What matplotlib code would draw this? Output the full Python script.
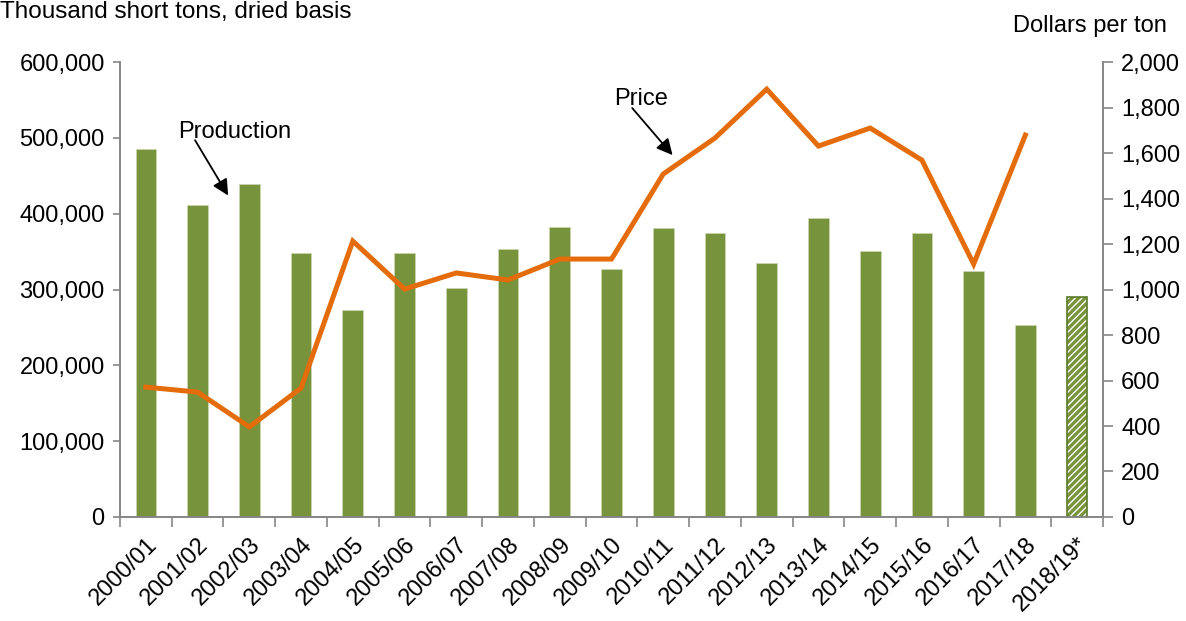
import matplotlib
matplotlib.use("Agg")
import matplotlib.pyplot as plt
from matplotlib.ticker import FuncFormatter
import numpy as np

plt.rcParams['font.family'] = ['Liberation Sans', 'DejaVu Sans']

# Data
years = ["2000/01", "2001/02", "2002/03", "2003/04", "2004/05", "2005/06",
         "2006/07", "2007/08", "2008/09", "2009/10", "2010/11", "2011/12",
         "2012/13", "2013/14", "2014/15", "2015/16", "2016/17", "2017/18",
         "2018/19*"]
production = [485000, 411000, 439000, 348000, 273000, 348000, 302000, 353000,
              382000, 327000, 381000, 374000, 335000, 394000, 351000, 374000,
              324000, 253000, 290000]
price = [571, 549, 396, 567, 1213, 1002, 1073, 1042, 1134, 1134, 1508, 1666,
         1881, 1631, 1710, 1569, 1112, 1679]

GREEN = "#77933C"
ORANGE = "#E46C0A"
GRAY = "#868686"

fig = plt.figure(figsize=(11.86, 6.21), dpi=100)
ax = fig.add_axes([0.1012, 0.1675, 0.8288, 0.7325])
ax2 = ax.twinx()

x = np.arange(len(years))
n_actual = len(years) - 1

# bars: solid for actual years, hatched for forecast
ax.bar(x[:n_actual], production[:n_actual], width=0.4, color=GREEN,
       edgecolor="#c9d6b0", linewidth=0.6, zorder=2)
ax.bar(x[n_actual:], production[n_actual:], width=0.4, color=GREEN,
       linewidth=0, zorder=2)
ax.bar(x[n_actual:], production[n_actual:], width=0.4, facecolor="none",
       edgecolor="white", hatch="/////", linewidth=0, zorder=3)
ax.bar(x[n_actual:], production[n_actual:], width=0.4, facecolor="none",
       edgecolor="#5a7a2a", linewidth=1.2, zorder=4)

ax2.plot(x[:len(price)], price, color=ORANGE, linewidth=3.6,
         solid_joinstyle="miter", zorder=5)

ax.set_xlim(-0.5, len(years) - 0.5)
ax.set_ylim(0, 600000)
ax2.set_ylim(0, 2000)
ax.set_yticks(np.arange(0, 600001, 100000))
ax2.set_yticks(np.arange(0, 2001, 200))
ax.yaxis.set_major_formatter(FuncFormatter(lambda v, p: f"{int(v):,}"))
ax2.yaxis.set_major_formatter(FuncFormatter(lambda v, p: f"{int(v):,}"))

# category ticks at boundaries, labels centered under bars
ax.set_xticks(np.arange(-0.5, len(years), 1.0))
ax.set_xticklabels([])
ax.set_xticks(x, minor=True)
ax.set_xticklabels(years, minor=True, rotation=45, ha="right",
                   rotation_mode="anchor", fontsize=17)
ax.tick_params(axis="x", which="major", length=7, color=GRAY, width=1.2)
ax.tick_params(axis="x", which="minor", length=0, pad=12)
ax.tick_params(axis="y", length=5, color=GRAY, width=1.2, labelsize=17, pad=6)
ax2.tick_params(axis="y", length=7, color=GRAY, width=1.2, labelsize=17, pad=6)

for a in (ax, ax2):
    a.spines["top"].set_visible(False)
    for s in ("left", "right", "bottom"):
        a.spines[s].set_color(GRAY)
        a.spines[s].set_linewidth(1.2)

fig.text(0.0, 0.999, "Thousand short tons, dried basis", fontsize=17.5,
         ha="left", va="top")
fig.text(0.854, 0.958, "Dollars per ton", fontsize=17, ha="left", va="center")

# annotation labels with arrows starting inside the text, as in the source
arrow = dict(arrowstyle="-|>", color="black", lw=1.3, mutation_scale=24,
             shrinkA=0, shrinkB=0)
ax.text(0.62, 508000, "Production", fontsize=17, ha="left", va="center",
        zorder=6)
ax.annotate("", xy=(1.59, 424000), xytext=(0.95, 497000), arrowprops=arrow,
            zorder=6)
ax2.text(9.05, 1837, "Price", fontsize=17, ha="left", va="center", zorder=6)
ax2.annotate("", xy=(10.18, 1591), xytext=(9.40, 1798), arrowprops=arrow,
             zorder=6)

fig.savefig("out.png", dpi=100)
